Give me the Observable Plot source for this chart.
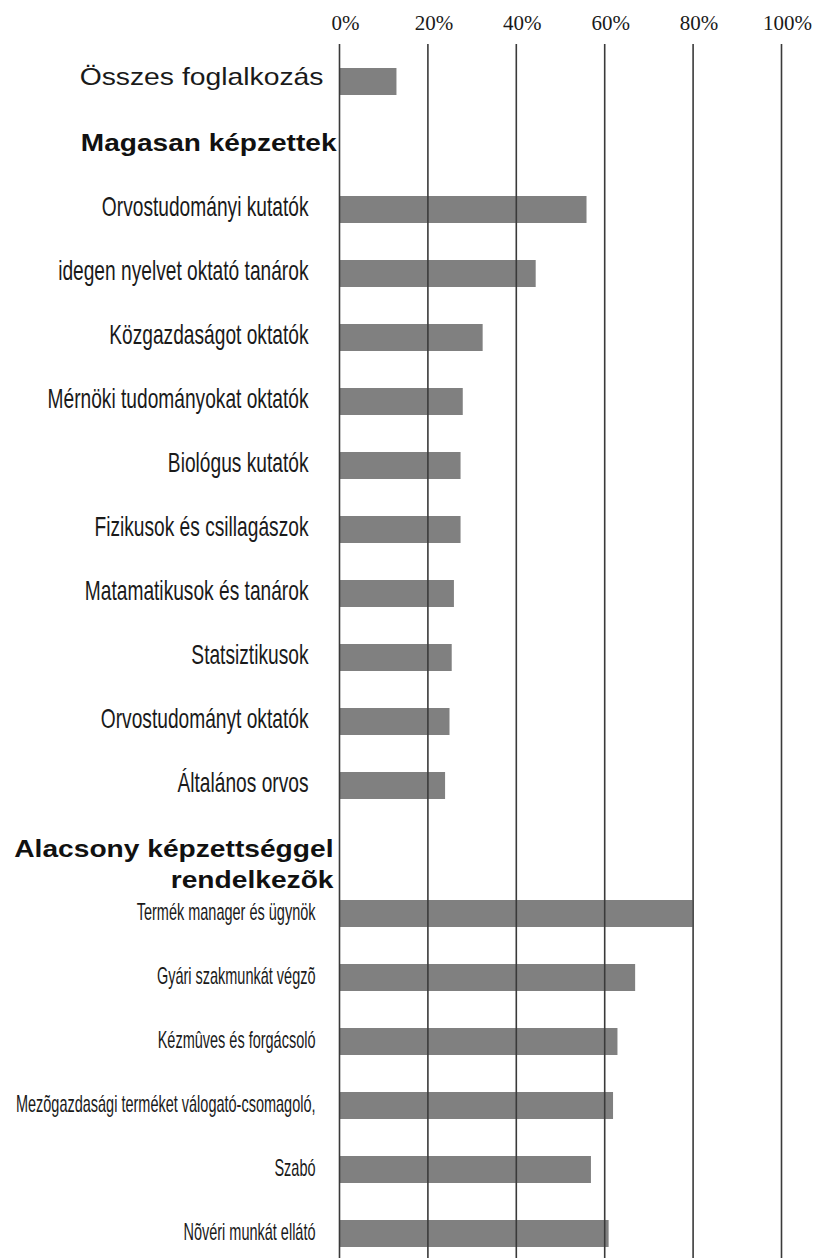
<!DOCTYPE html>
<html>
<head>
<meta charset="utf-8">
<script src="https://cdn.jsdelivr.net/npm/d3@7"></script>
<script src="https://cdn.jsdelivr.net/npm/@observablehq/plot@0.6"></script>
<style>
  html, body { margin: 0; padding: 0; background: #fff; overflow: hidden; }
  #chart svg { display: block; }
</style>
</head>
<body>
<div id="chart"></div>
<script>
// ---- data ----
const totalLabel = "Összes foglalkozás";
const totalValue = 13;

const highHeader = "Magasan képzettek";
const highLabels = [
  "Orvostudományi kutatók",
  "idegen nyelvet oktató tanárok",
  "Közgazdaságot oktatók",
  "Mérnöki tudományokat oktatók",
  "Biológus kutatók",
  "Fizikusok és csillagászok",
  "Matamatikusok és tanárok",
  "Statsiztikusok",
  "Orvostudományt oktatók",
  "Általános orvos"
];
const highValues = [56, 44.5, 32.5, 28, 27.5, 27.5, 26, 25.5, 25, 24];

const lowHeader = "Alacsony képzettséggel\nrendelkezõk";
const lowLabels = [
  "Termék manager és ügynök",
  "Gyári szakmunkát végzõ",
  "Kézmûves és forgácsoló",
  "Mezõgazdasági terméket válogató-csomagoló,",
  "Szabó",
  "Nõvéri munkát ellátó"
];
const lowValues = [80, 67, 63, 62, 57, 61];

const tickValues = [0, 20, 40, 60, 80, 100];

// ---- table built from the arrays ----
const rows = [
  {key: totalLabel, value: totalValue, kind: "total"},
  {key: highHeader, value: null, kind: "highHeader"},
  ...highLabels.map((k, i) => ({key: k, value: highValues[i], kind: "high"})),
  {key: lowHeader, value: null, kind: "lowHeader"},
  ...lowLabels.map((k, i) => ({key: k, value: lowValues[i], kind: "low"}))
];

const sans = "'Liberation Sans', Arial, Helvetica, sans-serif";
const serif = "'Liberation Serif', 'Times New Roman', serif";

function labelMark(kind, opts) {
  return Plot.text(rows.filter(d => d.kind === kind), {
    x: () => 0,
    y: "key",
    text: "key",
    textAnchor: "end",
    fill: "#1a1a1a",
    fontFamily: sans,
    ariaDescription: kind,
    ...opts
  });
}

const chart = Plot.plot({
  width: 816,
  height: 1270,
  marginTop: 44,
  marginBottom: 0,
  marginLeft: 339,
  marginRight: 35,
  style: {background: "#fff"},
  x: {domain: [0, 100], axis: null},
  y: {
    type: "band",
    domain: rows.map(d => d.key),
    paddingInner: 0.58,
    paddingOuter: 0.29,
    align: 0.5,
    axis: null
  },
  marks: [
    Plot.barX(rows.filter(d => d.value != null), {x: "value", y: "key", fill: "#808080"}),
    Plot.ruleX(tickValues, {stroke: "#3a3a3a", strokeWidth: 1.6}),
    Plot.text(tickValues, {
      x: d => d,
      text: d => d + "%",
      frameAnchor: "top",
      dy: -29,
      dx: 6,
      fontSize: 21,
      fontFamily: serif,
      fill: "#1a1a1a"
    }),
    labelMark("total", {fontSize: 24, dx: -16, dy: 3}),
    labelMark("highHeader", {fontSize: 23, fontWeight: "bold", dx: -3, dy: 5, fill: "#111"}),
    labelMark("high", {fontSize: 27, dx: -31, dy: 6}),
    labelMark("lowHeader", {fontSize: 23, fontWeight: "bold", dx: -6, dy: 13, lineHeight: 1.35, fill: "#111"}),
    labelMark("low", {fontSize: 23, dx: -24, dy: 6})
  ]
});

// horizontal stretch / condensing of label groups (style only)
function stretch(svg, desc, sx) {
  d3.select(svg).selectAll(`g[aria-description="${desc}"] text`).each(function () {
    const t = d3.select(this);
    let tr = t.attr("transform") || "";
    const x = t.attr("x"), y = t.attr("y");
    if (x != null || y != null) {
      tr = `translate(${+x || 0},${+y || 0}) ` + tr;
      t.attr("x", null).attr("y", null);
    }
    t.attr("transform", tr + ` scale(${sx},1)`);
  });
}
stretch(chart, "total", 1.18);
stretch(chart, "highHeader", 1.22);
stretch(chart, "high", 0.71);
stretch(chart, "lowHeader", 1.225);
stretch(chart, "low", 0.63);

document.getElementById("chart").appendChild(chart);
</script>
</body>
</html>
